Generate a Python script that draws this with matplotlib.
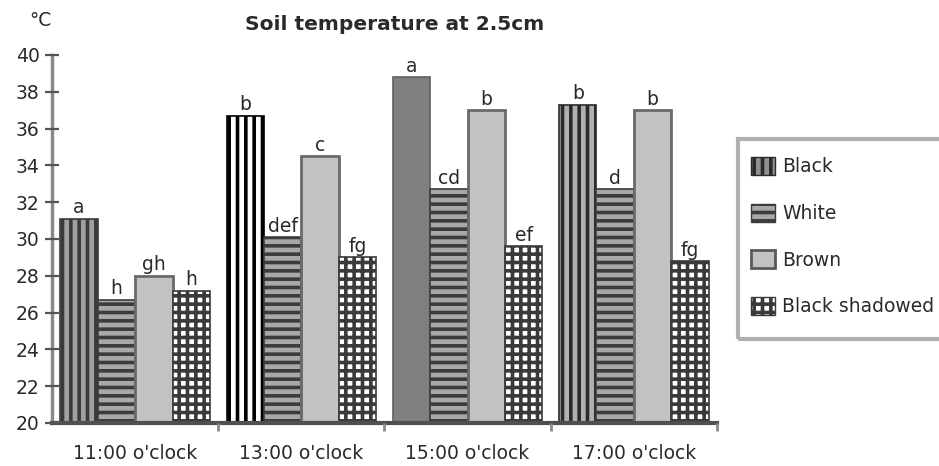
import matplotlib
matplotlib.use("Agg")
import matplotlib.pyplot as plt
from matplotlib.patches import Patch, Rectangle
import numpy as np

times = ["11:00 o'clock", "13:00 o'clock", "15:00 o'clock", "17:00 o'clock"]
series = ["Black", "White", "Brown", "Black shadowed"]
black = [31.1, 36.7, 38.8, 37.3]
white = [26.7, 30.1, 32.7, 32.7]
brown = [28.0, 34.5, 37.0, 37.0]
shadowed = [27.2, 29.0, 29.6, 28.8]
black_lbl = ['a', 'b', 'a', 'b']
white_lbl = ['h', 'def', 'cd', 'd']
brown_lbl = ['gh', 'c', 'b', 'b']
shadow_lbl = ['h', 'fg', 'ef', 'fg']
yticks = list(range(20, 41, 2))

plt.rcParams['font.family'] = ['DejaVu Sans']
plt.rcParams['hatch.linewidth'] = 2.6
FS = 13.5
TC = '#2a2a2a'

W, H = 939, 466
fig = plt.figure(figsize=(W / 100, H / 100), dpi=100)
ax = fig.add_axes([52 / W, 1 - 423 / H, (717 - 52) / W, (423 - 55) / H])

x = np.arange(len(times))
bw = 0.225
offs = np.array([-1.5, -0.5, 0.5, 1.5]) * bw

# Black series (per-bar appearance varies in the reference)
black_face = ['#a0a0a0', '#ffffff', '#808080', '#b0b0b0']
black_hatch = ['||', '||', None, '||']
black_edge = ['#3a3a3a', '#000000', '#606060', '#2a2a2a']
for i in range(len(times)):
    ax.bar(x[i] + offs[0], black[i] - 20, bw, bottom=20, color=black_face[i],
           hatch=black_hatch[i], edgecolor=black_edge[i], linewidth=1.2)
ax.bar(x + offs[1], np.array(white) - 20, bw, bottom=20, color='#a8a8a8',
       hatch='--', edgecolor='#3c3c3c', linewidth=1.2)
ax.bar(x + offs[2], np.array(brown) - 20, bw, bottom=20, color='#c2c2c2',
       edgecolor='#6a6a6a', linewidth=2.0)
ax.bar(x + offs[3], np.array(shadowed) - 20, bw, bottom=20, color='#ffffff',
       hatch='++', edgecolor='#3a3a3a', linewidth=1.2)

for vals, lbls, k in [(black, black_lbl, 0), (white, white_lbl, 1),
                      (brown, brown_lbl, 2), (shadowed, shadow_lbl, 3)]:
    for i in range(len(times)):
        ax.annotate(lbls[i], (x[i] + offs[k], vals[i]), xytext=(0, 1),
                    textcoords='offset points', ha='center', va='bottom',
                    fontsize=FS, color=TC)

ax.set_xlim(-0.5, 3.5)
ax.set_ylim(20, 40)
ax.set_yticks(yticks)
ax.set_yticklabels([str(v) for v in yticks])
ax.set_xticks(x)
ax.set_xticklabels(times)
ax.set_xticks([0.5, 1.5, 2.5, 3.5], minor=True)

ax.tick_params(axis='y', direction='inout', length=10, width=1.6,
               color='#555555', labelsize=FS, labelcolor=TC, pad=4)
ax.tick_params(axis='x', which='major', length=0, labelsize=FS,
               labelcolor=TC, pad=15)
ax.tick_params(axis='x', which='minor', direction='out', length=6,
               width=2.0, color='#8a8a8a')

for s in ['top', 'right']:
    ax.spines[s].set_visible(False)
ax.spines['left'].set_color('#8a8a8a')
ax.spines['left'].set_linewidth(2.5)
ax.spines['bottom'].set_color('#505050')
ax.spines['bottom'].set_linewidth(3.0)
ax.set_axisbelow(False)

fig.text(395 / W, 1 - 24 / H, "Soil temperature at 2.5cm", ha='center',
         va='center', fontsize=14.5, fontweight='bold', color=TC)
fig.text(40 / W, 1 - 21 / H, "°C", ha='center', va='center',
         fontsize=FS, color=TC)

handles = [
    Patch(facecolor='#909090', hatch='||', edgecolor='#2a2a2a', linewidth=1.0),
    Patch(facecolor='#a8a8a8', hatch='--', edgecolor='#3c3c3c', linewidth=1.0),
    Patch(facecolor='#c2c2c2', edgecolor='#5a5a5a', linewidth=2.0),
    Patch(facecolor='#ffffff', hatch='++', edgecolor='#3a3a3a', linewidth=1.0),
]
fig.legend(handles, series, loc='upper left',
           bbox_to_anchor=(751 / W, 1 - 157 / H), frameon=False,
           borderpad=0, borderaxespad=0, fontsize=FS, handlelength=1.3,
           handleheight=1.1, handletextpad=0.35, labelspacing=1.45,
           labelcolor=TC)
rect = Rectangle((738 / W, 1 - 339 / H), (980 - 738) / W, (339 - 139) / H,
                 transform=fig.transFigure, fill=False, edgecolor='#b0b0b0',
                 linewidth=3.0, clip_on=False)
fig.add_artist(rect)

fig.savefig("out.png", dpi=100)
